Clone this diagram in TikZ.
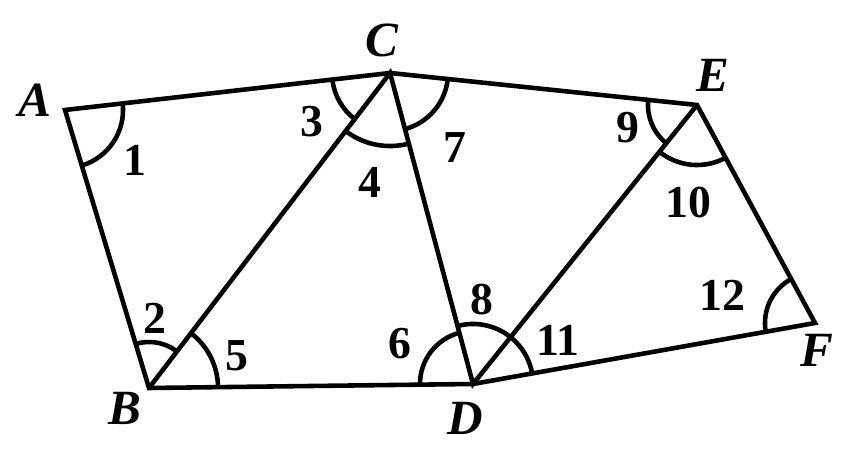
\documentclass[tikz,border=0pt]{standalone}
\usepackage{fontspec}
\setmainfont{Liberation Serif}
\usepackage{tikz}
\usetikzlibrary{angles}

\begin{document}
\begin{tikzpicture}[x=0.01cm,y=-0.01cm,line width=1.3pt]
\tikzstyle{vertex} = [font=\fontsize{14}{16}\selectfont\itshape\bfseries,inner sep=0];
\tikzstyle{anglabel} = [font=\fontsize{13}{15}\selectfont\bfseries,inner sep=0];
\tikzstyle{anglearc} = [draw,line width=1.3pt];
\useasboundingbox (0,0) rectangle (865,471);
\coordinate (A) at (65,110);
\coordinate (B) at (149,388);
\coordinate (C) at (390,73);
\coordinate (D) at (473,384);
\coordinate (E) at (697,105);
\coordinate (F) at (815,323);
% outline and diagonals
\draw (A) -- (C) -- (E) -- (F) -- (D) -- (B) -- cycle;
\draw (B) -- (C) -- (D) -- (E);
% angle marks
\pic [anglearc,angle radius=0.58cm] {angle = B--A--C};
\pic [anglearc,angle radius=0.46cm] {angle = C--B--A};
\pic [anglearc,angle radius=0.69cm] {angle = D--B--C};
\pic [anglearc,angle radius=0.58cm] {angle = A--C--B};
\pic [anglearc,angle radius=0.73cm] {angle = B--C--D};
\pic [anglearc,angle radius=0.58cm] {angle = D--C--E};
\pic [anglearc,angle radius=0.53cm] {angle = C--D--B};
\pic [anglearc,angle radius=0.60cm] {angle = F--D--C};
\pic [anglearc,angle radius=0.49cm] {angle = C--E--D};
\pic [anglearc,angle radius=0.60cm] {angle = D--E--F};
\pic [anglearc,angle radius=0.50cm] {angle = E--F--D};
% vertex names
\node [vertex] (lA) at (35,100) {A};
\node [vertex] (lB) at (125,408) {B};
\node [vertex] (lC) at (382,40) {C};
\node [vertex] (lD) at (465,418) {D};
\node [vertex] (lE) at (713,75) {E};
\node [vertex] (lF) at (817,350) {F};
% angle numbers
\node [anglabel] (n1) at (135,160) {1};
\node [anglabel] (n2) at (155,318) {2};
\node [anglabel] (n3) at (312,122) {3};
\node [anglabel] (n4) at (370,182) {4};
\node [anglabel] (n5) at (237,356) {5};
\node [anglabel] (n6) at (400,344) {6};
\node [anglabel] (n7) at (455,148) {7};
\node [anglabel] (n8) at (482,300) {8};
\node [anglabel] (n9) at (628,128) {9};
\node [anglabel] (n10) at (688,203) {10};
\node [anglabel] (n11) at (558,340) {11};
\node [anglabel] (n12) at (722,295) {12};
\end{tikzpicture}
\end{document}
